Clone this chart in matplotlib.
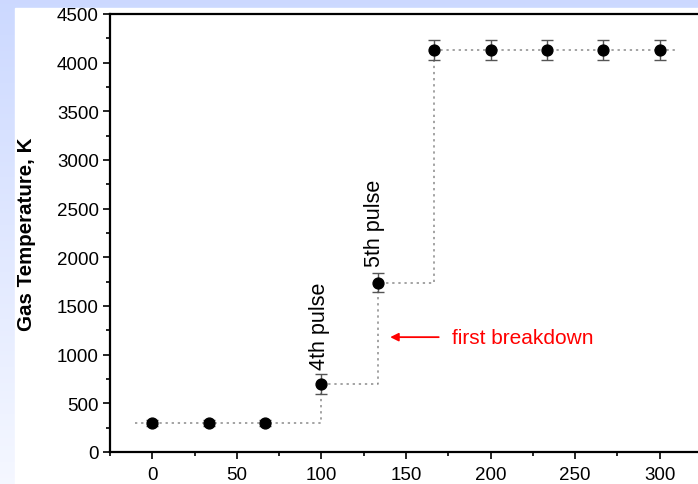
import numpy as np
import matplotlib
matplotlib.use("Agg")
import matplotlib.pyplot as plt
from matplotlib.ticker import MultipleLocator
from matplotlib.patches import Rectangle

plt.rcParams['font.family'] = ['Liberation Sans', 'DejaVu Sans']

# data
time = [0, 33.3, 66.7, 100, 133.3, 166.7, 200, 233.3, 266.7, 300]
temp = [300, 300, 300, 700, 1740, 4130, 4130, 4130, 4130, 4130]
err = [30, 30, 30, 100, 100, 100, 100, 100, 100, 100]
xticks = [0, 50, 100, 150, 200, 250, 300]
yticks = [0, 500, 1000, 1500, 2000, 2500, 3000, 3500, 4000, 4500]

W, H = 698, 485
fig = plt.figure(figsize=(W / 100, H / 100), dpi=100)

# slide-like background
bg = fig.add_axes([0, 0, 1, 1])
grad = np.linspace(0, 1, 256).reshape(-1, 1)
c_top = np.array([0.80, 0.85, 1.0])
c_bot = np.array([0.96, 0.97, 1.0])
img = c_top[None, None, :] * (1 - grad[:, :, None]) + c_bot[None, None, :] * grad[:, :, None]
bg.imshow(img, aspect='auto', extent=[0, 1, 0, 1], origin='upper')
bg.add_patch(Rectangle((15 / W, 0), 1, 1 - 9 / H, color='white', transform=bg.transAxes))
bg.set_xlim(0, 1)
bg.set_ylim(0, 1)
bg.axis('off')

ax = fig.add_axes([110 / W, (H - 453) / H, (702 - 110) / W, (453 - 15) / H])
ax.set_facecolor('none')

# step line
tx = [time[0] - 10] + time + [time[-1] + 10]
ty = [temp[0]] + temp + [temp[-1]]
ax.plot(tx, ty, drawstyle='steps-post', color='#8a8a8a', ls=(0, (1.5, 2.5)), lw=1.1, zorder=2)

ax.errorbar(time, temp, yerr=err, fmt='o', color='black', ms=7.8,
            ecolor='#555555', elinewidth=1, capsize=4, capthick=1, zorder=3)

ax.set_xlim(-25, 325)
ax.set_ylim(0, 4500)
ax.set_xticks(xticks)
ax.set_yticks(yticks)
ax.xaxis.set_minor_locator(MultipleLocator(25))
ax.yaxis.set_minor_locator(MultipleLocator(250))
ax.tick_params(which='major', direction='out', length=5, width=1.2, labelsize=13.5)
ax.tick_params(axis='x', which='major', pad=5)
ax.tick_params(axis='y', which='major', pad=3)
ax.tick_params(which='minor', direction='out', length=3, width=1.2)
for s in ax.spines.values():
    s.set_linewidth(1.6)

ax.set_ylabel('Gas Temperature, K', fontsize=14.8, fontweight='bold', labelpad=15)

ax.text(time[3] - 1, 855, '4th pulse', rotation=90, ha='center', va='bottom', fontsize=15.5)
ax.text(time[4] - 2, 1910, '5th pulse', rotation=90, ha='center', va='bottom', fontsize=15.5)
ax.annotate('', xy=(139, 1180), xytext=(171, 1180),
            arrowprops=dict(arrowstyle='-|>', color='red', lw=1.3, mutation_scale=12))
ax.text(177, 1180, 'first breakdown', color='red', fontsize=15, ha='left', va='center')

fig.savefig('out.png', dpi=100)
